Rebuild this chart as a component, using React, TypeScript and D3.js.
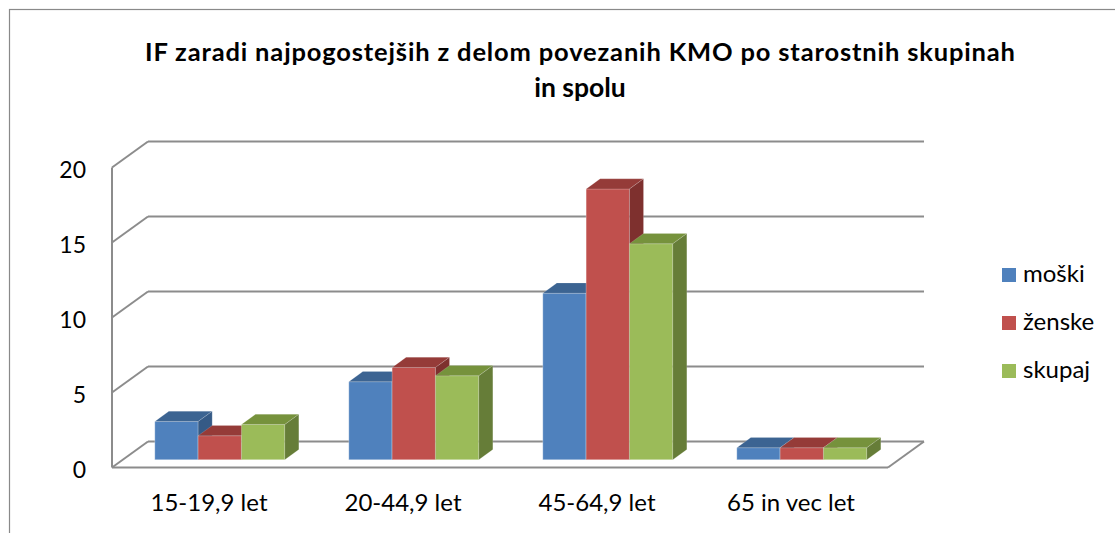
import React from 'react';
import * as d3 from 'd3';

const categories = ['15-19,9 let', '20-44,9 let', '45-64,9 let', '65 in vec let'];
const seriesNames = ['moški', 'ženske', 'skupaj'];
const moski = [2.55, 5.2, 11.1, 0.8];
const zenske = [1.6, 6.15, 18.05, 0.8];
const skupaj = [2.35, 5.6, 14.4, 0.8];
const yTicks = [0, 5, 10, 15, 20];
const titleLines = [
  'IF zaradi najpogostejših z delom povezanih KMO po starostnih skupinah',
  'in spolu',
];

const frontColors = ['#4F81BD', '#C0504D', '#9BBB59'];
const topColors = ['#3C6492', '#953B38', '#76923C'];
const sideColors = ['#355A86', '#7E302E', '#667D38'];

const W = 1115;
const H = 533;
const FONT = 'Lato, "Open Sans", sans-serif';

export default function App() {
  const values = [moski, zenske, skupaj];
  const ox = 112;
  const oy = 467.5;
  const DX = 36;
  const DY = -26;
  const plotW = 776;
  const x0 = d3.scaleBand<string>().domain(categories).range([0, plotW]);
  const groupW = 130;
  const x1 = d3.scaleBand<string>().domain(seriesNames).range([0, groupW]);
  const y = d3.scaleLinear().domain([0, 20]).range([0, 300]);
  const d0 = 0.3;
  const d1 = 0.69;
  const P = (x: number, v: number, d: number): [number, number] => [
    ox + x + d * DX,
    oy - y(v) + d * DY,
  ];
  const poly = (pts: [number, number][]) => pts.map((p) => p.join(',')).join(' ');
  const grid = '#8C8C8C';

  const bars: React.ReactNode[] = [];
  categories.forEach((c, ci) => {
    const gx = (x0(c) as number) + (x0.bandwidth() - groupW) / 2;
    seriesNames.forEach((s, si) => {
      const v = values[si][ci];
      const xa = gx + (x1(s) as number);
      const xb = xa + x1.bandwidth();
      const front = [P(xa, 0, d0), P(xb, 0, d0), P(xb, v, d0), P(xa, v, d0)];
      const top = [P(xa, v, d0), P(xb, v, d0), P(xb, v, d1), P(xa, v, d1)];
      const side = [P(xb, 0, d0), P(xb, 0, d1), P(xb, v, d1), P(xb, v, d0)];
      bars.push(
        <g key={`${ci}-${si}`}>
          <polygon points={poly(front)} fill={frontColors[si]} stroke="rgba(255,255,255,0.35)" strokeWidth={0.8} />
          <polygon points={poly(top)} fill={topColors[si]} stroke="rgba(255,255,255,0.25)" strokeWidth={0.6} />
          <polygon points={poly(side)} fill={sideColors[si]} stroke="rgba(255,255,255,0.25)" strokeWidth={0.6} />
        </g>
      );
    });
  });

  return (
    <svg width={W} height={H} style={{ position: 'absolute', left: 0, top: 0, background: '#fff' }}>
      <rect x={9.5} y={9.5} width={1300} height={800} fill="#fff" stroke="#898989" strokeWidth={1.2} />
      <text x={580} y={61} textAnchor="middle" fontFamily={FONT} fontWeight={700} fontSize={25.5} textLength={870} lengthAdjust="spacing" fill="#000">
        {titleLines[0]}
      </text>
      <text x={580} y={97} textAnchor="middle" fontFamily={FONT} fontWeight={700} fontSize={26.5} fill="#000">
        {titleLines[1]}
      </text>
      {/* back wall gridlines and side wall lines */}
      {yTicks.map((t) => {
        const [fx, fy] = P(0, t, 0);
        const [bx, by] = P(0, t, 1);
        const [ex, ey] = P(plotW, t, 1);
        return (
          <g key={t}>
            <line x1={bx} y1={by} x2={ex} y2={ey} stroke={grid} strokeWidth={2} />
            <line x1={fx} y1={fy} x2={bx} y2={by} stroke={grid} strokeWidth={2} />
          </g>
        );
      })}
      {/* floor */}
      <line x1={P(0, 0, 0)[0]} y1={P(0, 0, 0)[1]} x2={P(plotW, 0, 0)[0]} y2={P(plotW, 0, 0)[1]} stroke={grid} strokeWidth={2} />
      <line x1={P(plotW, 0, 0)[0]} y1={P(plotW, 0, 0)[1]} x2={P(plotW, 0, 1)[0]} y2={P(plotW, 0, 1)[1]} stroke={grid} strokeWidth={2} />
      {/* vertical axis */}
      <line x1={ox} y1={P(0, 20, 0)[1]} x2={ox} y2={oy} stroke={grid} strokeWidth={2} />
      {bars}
      {yTicks.map((t) => (
        <text key={t} x={86} y={P(0, t, 0)[1] + 10} textAnchor="end" fontFamily={FONT} fontSize={23} fill="#000">
          {t}
        </text>
      ))}
      {categories.map((c) => (
        <text key={c} x={ox + (x0(c) as number) + x0.bandwidth() / 2} y={511} textAnchor="middle" fontFamily={FONT} fontSize={24} fill="#000">
          {c}
        </text>
      ))}
      {seriesNames.map((s, i) => (
        <g key={s}>
          <rect x={1002} y={268 + i * 48} width={14} height={14} fill={frontColors[i]} />
          <text x={1023} y={282 + i * 48} fontFamily={FONT} fontSize={24} fill="#000">
            {s}
          </text>
        </g>
      ))}
    </svg>
  );
}
